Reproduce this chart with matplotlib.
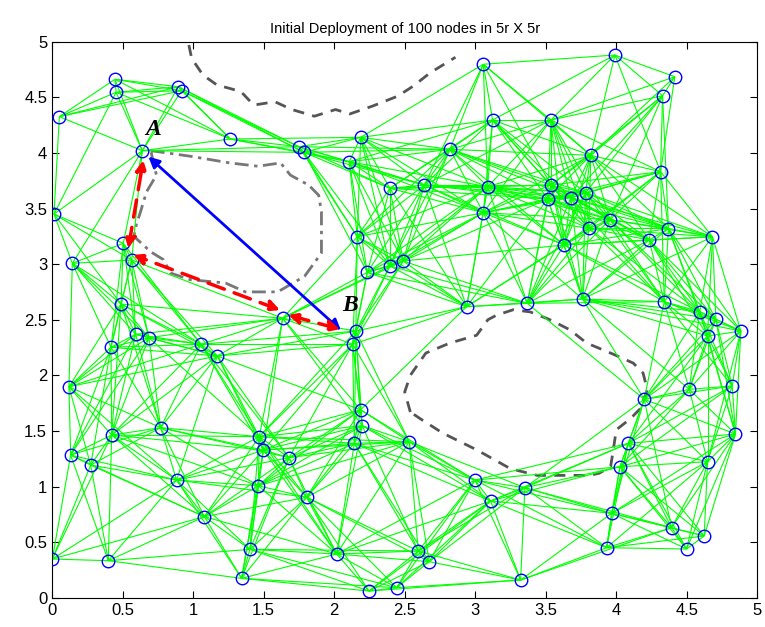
import numpy as np
import matplotlib
matplotlib.use("Agg")
import matplotlib.pyplot as plt
from matplotlib.collections import LineCollection

# ---- data -------------------------------------------------------------
node_x = [0.446, 0.454, 0.895, 0.919, 0.052, 0.640, 1.264, 0.014, 1.750, 1.786,
          2.188, 2.107, 2.395, 3.057, 3.123, 3.537, 2.821, 3.819, 2.639, 3.088,
          3.537, 3.513, 3.678, 3.782, 3.057, 3.990, 4.415, 4.328, 4.314, 3.955,
          4.370, 0.505, 0.565, 0.144, 0.489, 0.593, 0.687, 0.418, 1.056, 1.172,
          0.120, 2.164, 2.235, 2.395, 2.490, 1.635, 2.154, 2.131, 2.188, 3.806,
          3.631, 2.939, 3.369, 3.761, 4.233, 4.682, 4.340, 4.592, 4.706, 4.883,
          4.647, 4.822, 4.517, 4.198, 0.770, 0.423, 0.132, 0.274, 0.883, 1.080,
          0.002, 0.399, 2.199, 2.143, 2.532, 1.469, 1.498, 1.680, 1.463, 1.805,
          1.403, 2.018, 1.344, 2.247, 2.443, 2.596, 2.674, 2.998, 3.352, 3.109,
          3.322, 4.085, 4.026, 4.845, 4.647, 3.967, 4.392, 4.623, 3.931, 4.498]
node_y = [4.662, 4.545, 4.595, 4.559, 4.326, 4.020, 4.125, 3.450, 4.056, 4.005,
          4.140, 3.921, 3.682, 4.797, 4.296, 4.296, 4.032, 3.978, 3.711, 3.696,
          3.711, 3.585, 3.597, 3.642, 3.462, 4.880, 4.685, 4.514, 3.831, 3.400,
          3.320, 3.187, 3.037, 3.007, 2.641, 2.369, 2.338, 2.252, 2.279, 2.174,
          1.897, 3.246, 2.926, 2.983, 3.028, 2.513, 2.398, 2.279, 1.690, 3.322,
          3.172, 2.617, 2.647, 2.686, 3.217, 3.246, 2.662, 2.572, 2.503, 2.398,
          2.353, 1.904, 1.874, 1.784, 1.529, 1.463, 1.283, 1.193, 1.058, 0.729,
          0.348, 0.333, 1.547, 1.388, 1.403, 1.448, 1.328, 1.259, 1.007, 0.903,
          0.435, 0.393, 0.174, 0.060, 0.090, 0.420, 0.324, 1.058, 0.989, 0.870,
          0.159, 1.388, 1.178, 1.472, 1.223, 0.759, 0.630, 0.555, 0.450, 0.438]
comm_range = 1.2

# obstacle outlines
top_x = [0.97, 0.99, 1.07, 1.17, 1.26, 1.34, 1.43, 1.58, 1.70, 1.86, 2.01, 2.11, 2.27, 2.45, 2.56, 2.68, 2.86]
top_y = [4.97, 4.85, 4.70, 4.61, 4.58, 4.55, 4.43, 4.46, 4.39, 4.33, 4.39, 4.35, 4.42, 4.51, 4.60, 4.72, 4.86]
left_x = [0.70, 0.98, 1.26, 1.46, 1.62, 1.69, 1.82, 1.89, 1.91, 1.91, 1.79, 1.60, 1.37, 1.23, 0.98, 0.84,
          0.79, 0.70, 0.58, 0.60, 0.62, 0.67, 0.74, 0.70]
left_y = [4.02, 3.97, 3.91, 3.88, 3.91, 3.80, 3.71, 3.62, 3.47, 3.10, 2.89, 2.75, 2.75, 2.83, 2.86, 2.92,
          3.04, 3.11, 3.25, 3.37, 3.44, 3.65, 3.80, 4.02]
right_x = [2.54, 2.50, 2.54, 2.65, 2.82, 3.01, 3.09, 3.15, 3.27, 3.39, 3.53, 3.67, 3.79, 3.96, 4.12, 4.19,
           4.22, 4.17, 4.10, 4.00, 3.98, 3.96, 3.88, 3.81, 3.65, 3.44, 3.25, 3.01, 2.77, 2.61, 2.54]
right_y = [1.67, 1.85, 2.00, 2.20, 2.29, 2.36, 2.50, 2.54, 2.59, 2.57, 2.50, 2.41, 2.29, 2.20, 2.11, 2.02,
           1.87, 1.70, 1.61, 1.51, 1.34, 1.18, 1.12, 1.10, 1.10, 1.10, 1.16, 1.33, 1.48, 1.61, 1.67]

# route annotations (start -> end)
blue_arrow = [(2.048, 2.405), (0.683, 3.966)]
red_arrows = [[(0.541, 3.142), (0.647, 3.936)],
              [(1.616, 2.587), (0.576, 3.082)],
              [(1.675, 2.542), (2.041, 2.414)]]
labels = [("A", 0.718, 4.206), ("B", 2.112, 2.632)]
title = "Initial Deployment of 100 nodes in 5r X 5r"
ticks = [0, 0.5, 1, 1.5, 2, 2.5, 3, 3.5, 4, 4.5, 5]
tick_labels = ["0", "0.5", "1", "1.5", "2", "2.5", "3", "3.5", "4", "4.5", "5"]

# ---- plot -------------------------------------------------------------
plt.rcParams['font.family'] = ['Liberation Sans', 'DejaVu Sans']
fig = plt.figure(figsize=(7.65, 6.27), dpi=100)
ax = fig.add_axes([0.068, 0.0467, 0.922, 0.8868])

x = np.array(node_x)
y = np.array(node_y)
segs = []
n = len(x)
for i in range(n):
    for j in range(i + 1, n):
        if np.hypot(x[i] - x[j], y[i] - y[j]) <= comm_range:
            segs.append([(x[i], y[i]), (x[j], y[j])])
ax.add_collection(LineCollection(segs, colors="#00ff00", linewidths=0.8, zorder=2))

ax.plot(top_x, top_y, color="#555555", ls=(0, (4, 3)), lw=2, zorder=1)
ax.plot(left_x, left_y, color="#777777", ls=(0, (5, 2, 1.2, 2)), lw=2, zorder=1)
ax.plot(right_x, right_y, color="#555555", ls=(0, (4, 3)), lw=2, zorder=1)

ax.plot(x, y, ls="none", marker="o", markersize=9, markerfacecolor="none",
        markeredgecolor="#0000ff", markeredgewidth=1.0, zorder=4)

(bx0, by0), (bx1, by1) = blue_arrow
ax.annotate("", xy=(bx1, by1), xytext=(bx0, by0),
            arrowprops=dict(arrowstyle="<|-|>", color="#0000ff", lw=2,
                            mutation_scale=16, shrinkA=0, shrinkB=0), zorder=5)
for (sx, sy), (ex, ey) in red_arrows:
    ax.annotate("", xy=(ex, ey), xytext=(sx, sy),
                arrowprops=dict(arrowstyle="<|-|>", color="#ff0000", lw=2.5,
                                ls=(0, (5, 3)), mutation_scale=16,
                                shrinkA=0, shrinkB=0), zorder=5)

for t, lx, ly in labels:
    ax.text(lx, ly, t, fontsize=17, fontweight="bold", fontstyle="italic",
            family="Liberation Serif", ha="center", va="center", zorder=6)

ax.set_xlim(0, 5)
ax.set_ylim(0, 5)
ax.set_xticks(ticks)
ax.set_xticklabels(tick_labels)
ax.set_yticks(ticks)
ax.set_yticklabels(tick_labels)
ax.tick_params(direction="in", top=True, right=True, length=5, labelsize=12)
ax.set_title(title, fontsize=10.5, pad=6)

fig.savefig("out.png", dpi=100)
